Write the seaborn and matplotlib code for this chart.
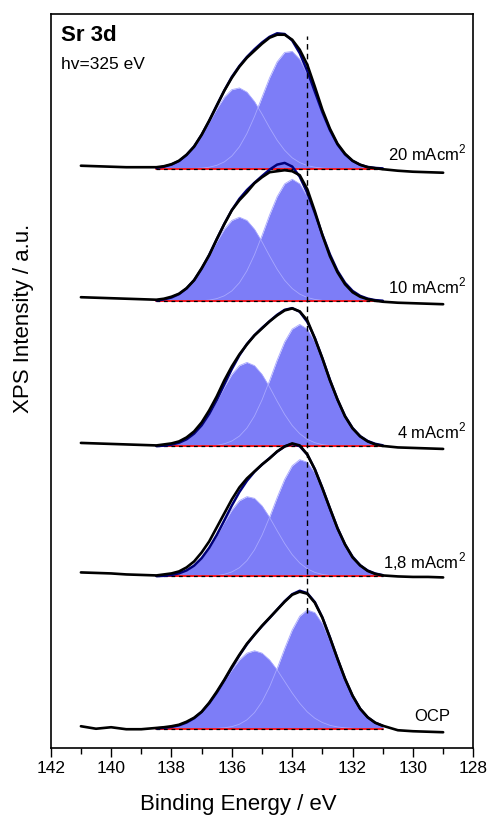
import numpy as np
import pandas as pd
import matplotlib.pyplot as plt
from matplotlib.ticker import MultipleLocator
import seaborn as sns

sns.set_theme(style="ticks")
plt.rcParams["font.family"] = ["Liberation Sans", "DejaVu Sans"]
plt.rcParams["mathtext.fontset"] = "custom"
plt.rcParams["mathtext.rm"] = "Liberation Sans"
plt.rcParams["text.color"] = "black"
plt.rcParams["axes.edgecolor"] = "black"
plt.rcParams["xtick.color"] = "black"

# binding energy grids (eV)
e_left = [141.0, 140.5, 140.0, 139.5, 139.0]
e_core = [138.50, 138.25, 138.00, 137.75, 137.50, 137.25, 137.00, 136.75,
          136.50, 136.25, 136.00, 135.75, 135.50, 135.25, 135.00, 134.75,
          134.50, 134.25, 134.00, 133.75, 133.50, 133.25, 133.00, 132.75,
          132.50, 132.25, 132.00, 131.75, 131.50, 131.25, 131.00]
e_right = [130.5, 130.0, 129.5, 129.0]

labels = ["20 mAcm$^2$", "10 mAcm$^2$", "4 mAcm$^2$", "1,8 mAcm$^2$", "OCP"]
levels = [579, 446.5, 301.3, 171.3, 19]   # background level of each spectrum (a.u.)
ref_energy = 133.5

# Sr 3d3/2 fit component (above background), on e_core
d32_20 = [0.9, 2.0, 4.1, 7.7, 13.6, 22.1, 33.3, 46.4, 59.9, 71.4, 79.1, 80.8, 76.6, 67.2, 54.6, 41.0,
          28.5, 18.4, 10.9, 6.1, 3.1, 1.5, 0.6, 0.2, 0, 0, 0, 0, 0, 0, 0]
d32_10 = [0.8, 1.8, 3.7, 7.1, 12.7, 20.9, 32.0, 45.3, 59.4, 72.0, 80.8, 84.0, 80.8, 72.0, 59.4, 45.3,
          32.0, 20.9, 12.7, 7.1, 3.7, 1.8, 0.8, 0.3, 0, 0, 0, 0, 0, 0, 0]
d32_4 = [0.3, 0.8, 1.8, 3.7, 7.1, 12.7, 20.9, 32.0, 45.3, 59.4, 72.0, 80.8, 84.0, 80.8, 72.0, 59.4,
         45.3, 32.0, 20.9, 12.7, 7.1, 3.7, 1.8, 0.8, 0.3, 0, 0, 0, 0, 0, 0]
d32_18 = [0.3, 0.6, 1.4, 3.1, 6.0, 10.8, 18.2, 28.2, 40.5, 53.9, 66.4, 75.7, 79.8, 78.1, 70.6, 59.1,
          45.8, 32.9, 21.8, 13.4, 7.6, 4.0, 2.0, 0.9, 0.4, 0, 0, 0, 0, 0, 0]
d32_ocp = [0.4, 0.9, 1.8, 3.4, 6.2, 10.5, 16.8, 25.4, 35.7, 47.3, 58.9, 68.8, 75.6, 78.0, 75.6, 68.8,
           58.9, 47.3, 35.7, 25.4, 16.8, 10.5, 6.2, 3.4, 1.8, 0.9, 0.4, 0, 0, 0, 0]

# Sr 3d5/2 fit component (above background), on e_core
d52_20 = [0, 0, 0, 0, 0.1, 0.3, 0.6, 1.5, 3.4, 6.8, 12.7, 21.9, 35.2, 52.2, 71.6, 90.9,
          106.9, 116.3, 117.3, 109.4, 94.5, 75.5, 55.9, 38.4, 24.3, 14.3, 7.8, 3.9, 1.8, 0.8, 0.3]
d52_10 = [0, 0, 0, 0, 0.1, 0.2, 0.5, 1.1, 2.6, 5.4, 10.3, 18.4, 30.4, 46.5, 65.8, 86.3,
          104.6, 117.4, 122.0, 117.4, 104.6, 86.3, 65.8, 46.5, 30.4, 18.4, 10.3, 5.4, 2.6, 1.1, 0.5]
d52_4 = [0, 0, 0, 0, 0, 0.1, 0.2, 0.5, 1.1, 2.6, 5.4, 10.3, 18.4, 30.4, 46.5, 65.8,
         86.3, 104.6, 117.4, 122.0, 117.4, 104.6, 86.3, 65.8, 46.5, 30.4, 18.4, 10.3, 5.4, 2.6, 1.1]
d52_18 = [0, 0, 0, 0, 0, 0, 0.1, 0.4, 0.9, 2.1, 4.5, 8.7, 15.8, 26.6, 41.2, 59.2,
          78.9, 97.1, 110.7, 116.8, 114.2, 103.2, 86.5, 67.0, 48.1, 31.9, 19.7, 11.2, 5.9, 2.9, 1.3]
d52_ocp = [0, 0, 0, 0, 0, 0, 0, 0.1, 0.4, 0.9, 2.1, 4.5, 8.9, 16.1, 27.0, 41.9,
           60.2, 80.2, 98.8, 112.6, 118.8, 116.1, 105.0, 87.9, 68.2, 48.9, 32.5, 20.0, 11.4, 6.0, 2.9]

# measured spectra (above background), on e_left + e_core + e_right
meas_20 = [3, 2.5, 2, 1.5, 1.5,
           1.5, 2.5, 4.5, 8, 14, 22, 34, 48, 63, 78, 91, 102, 111, 118, 125, 131,
           134, 134, 129, 119, 104, 82, 59, 40, 25, 15, 8, 4, 1.5, 0.5, -0.5,
           -2, -3, -3.5, -4]
meas_10 = [4, 3.5, 3, 2.5, 2,
           1.5, 2.5, 4.5, 7.5, 13, 21, 33, 46, 62, 77, 91, 101, 109, 118, 124, 129,
           130, 131, 130, 126, 112, 90, 66, 45, 29, 17, 9, 4.5, 2, 0.5, -0.5,
           -1.5, -2, -2.5, -3]
meas_4 = [3.5, 3, 2.5, 2, 1.5,
          1, 2, 3, 5, 9, 15, 24, 36, 50, 66, 80, 92, 102, 111, 118, 125,
          131, 136, 138, 135, 126, 108, 88, 66, 47, 30, 18, 10, 5, 2, 0.5,
          -1, -1.5, -2, -2.5]
meas_18 = [4, 3.5, 3, 2, 1.5,
           1, 2, 3, 5, 9, 15, 24, 35, 49, 63, 77, 89, 98, 105, 112, 118,
           125, 130, 133, 131, 122, 107, 88, 68, 48, 32, 19, 11, 5.5, 2.5, 1,
           0, -0.5, -0.5, -1]
meas_ocp = [2.5, 0, 1.5, -0.5, -0.5,
            0.8, 1.5, 2.5, 4, 7, 11, 17, 26, 37, 49, 62, 74, 85, 94, 103, 111,
            119, 127, 134, 137, 135, 126, 111, 91, 70, 50, 33, 20, 11.5, 6, 3,
            -1.5, -2.5, -3, -3.5]

spectra = [(d32_20, d52_20, meas_20), (d32_10, d52_10, meas_10), (d32_4, d52_4, meas_4),
           (d32_18, d52_18, meas_18), (d32_ocp, d52_ocp, meas_ocp)]

fig, ax = plt.subplots(figsize=(4.91, 8.18), dpi=100)
fig.subplots_adjust(left=0.1033, right=0.964, bottom=0.0859, top=0.9825)

e_full = e_left + e_core + e_right
core = np.array(e_core)
for lab, lev, (d32, d52, meas) in zip(labels, levels, spectra):
    d32 = np.array(d32)
    d52 = np.array(d52)
    for comp in (d32, d52):
        ax.fill_between(core, lev, lev + comp, color="#7d7df7", lw=0)
    for comp in (d32, d52):
        ax.plot(core, lev + comp, color="#a8a8ff", lw=0.6)
    # background
    ax.plot([e_core[0], e_core[-1]], [lev, lev], color="#ff1010", lw=1.3)
    ax.plot([e_core[0], e_core[-1]], [lev, lev], color="black", lw=0.9, ls=(0, (3, 3)))
    fit = pd.DataFrame({"E": e_core, "I": lev + d32 + d52})
    sns.lineplot(data=fit, x="E", y="I", ax=ax, color="#00007a", lw=1.8, sort=False)
    df = pd.DataFrame({"E": e_full, "I": lev + np.array(meas)})
    sns.lineplot(data=df, x="E", y="I", ax=ax, color="black", lw=1.9, sort=False)
    xr = 128.77 if lab == "OCP" else 128.24
    ax.text(xr, lev + 8, lab, ha="right", va="baseline", fontsize=12)

ax.plot([ref_energy, ref_energy], [135, 712], color="black", lw=1.0, ls=(0, (4, 3)), zorder=5)

ax.set_xlim(142, 128)
ax.set_ylim(0, 733.4)
ax.set_xticks(range(142, 127, -2))
ax.xaxis.set_minor_locator(MultipleLocator(1))
ax.set_yticks([])
ax.tick_params(axis="x", which="major", length=6.5, width=1, direction="out",
               top=False, labelsize=12.5, pad=3)
ax.tick_params(axis="x", which="minor", length=4, width=1, direction="out", top=False)
for s in ax.spines.values():
    s.set_linewidth(1.2)
ax.set_xlabel("")
ax.set_ylabel("")

fig.text(238 / 491, 1 - 810 / 818, "Binding Energy / eV", ha="center", va="baseline", fontsize=16)
fig.text(23.5 / 491, 1 - 318 / 818, "XPS Intensity / a.u.", ha="center", va="center",
         rotation=90, fontsize=16)
fig.text(61 / 491, 1 - 40.7 / 818, "Sr 3d", ha="left", va="baseline", fontsize=16, fontweight="bold")
fig.text(61 / 491, 1 - 69 / 818, "hv=325 eV", ha="left", va="baseline", fontsize=12.5)

fig.savefig("out.png", dpi=100)
